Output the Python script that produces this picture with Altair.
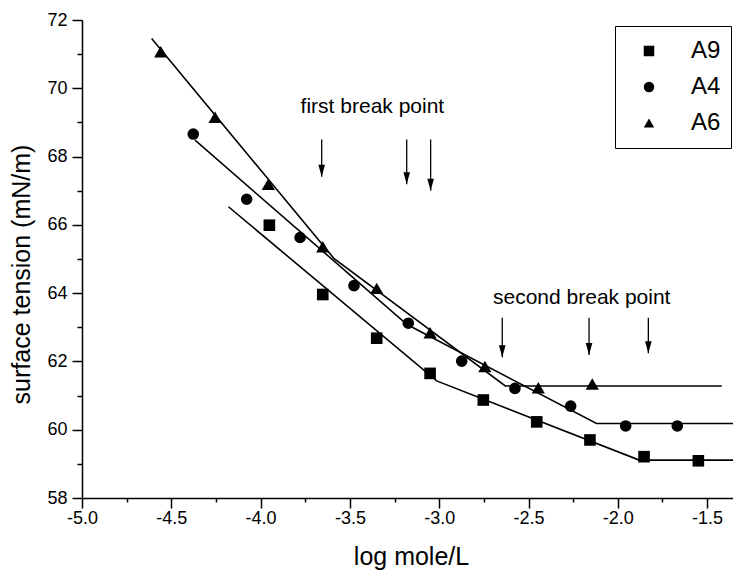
import altair as alt
import pandas as pd

# ---------------- data ----------------
series_names = ["A9", "A4", "A6"]

a9_x = [-3.951, -3.652, -3.350, -3.051, -2.753, -2.454, -2.156, -1.853, -1.549]
a9_y = [65.99, 63.96, 62.68, 61.65, 60.87, 60.23, 59.70, 59.21, 59.09]

a4_x = [-4.377, -4.078, -3.779, -3.477, -3.173, -2.874, -2.576, -2.264, -1.956, -1.667]
a4_y = [68.66, 66.75, 65.63, 64.22, 63.12, 62.01, 61.21, 60.69, 60.11, 60.11]

a6_x = [-4.559, -4.255, -3.957, -3.652, -3.350, -3.051, -2.744, -2.445, -2.143]
a6_y = [71.07, 69.15, 67.19, 65.36, 64.14, 62.84, 61.85, 61.23, 61.34]

# fitted broken lines (vertices)
fit9_x = [-4.180, -3.014, -1.880, -1.355]
fit9_y = [66.53, 61.43, 59.11, 59.11]
fit4_x = [-4.367, -3.180, -2.119, -1.355]
fit4_y = [68.48, 63.08, 60.18, 60.18]
fit6_x = [-4.610, -3.590, -2.630, -1.418]
fit6_y = [71.46, 65.02, 61.28, 61.28]

# break-point arrows
arrow_x = [-3.658, -3.182, -3.048, -2.647, -2.161, -1.829]
arrow_top = [68.50, 68.50, 68.50, 63.28, 63.28, 63.28]
arrow_bottom = [67.41, 67.19, 67.00, 62.12, 62.19, 62.24]

# annotations
note_text = ["first break point", "second break point"]
note_x = [-3.374, -2.202]
note_y = [69.27, 63.67]

# axes
x_domain = [-5.0, -1.355]
y_domain = [58, 72]
x_ticks = [-5.0, -4.75, -4.5, -4.25, -4.0, -3.75, -3.5, -3.25, -3.0,
           -2.75, -2.5, -2.25, -2.0, -1.75, -1.5]
y_ticks = [58, 59, 60, 61, 62, 63, 64, 65, 66, 67, 68, 69, 70, 71, 72]

# ---------------- tables ----------------
pts = pd.DataFrame(
    [{"series": "A9", "x": x, "y": y} for x, y in zip(a9_x, a9_y)]
    + [{"series": "A4", "x": x, "y": y} for x, y in zip(a4_x, a4_y)]
    + [{"series": "A6", "x": x, "y": y} for x, y in zip(a6_x, a6_y)]
)
fits = pd.DataFrame(
    [{"series": "A9", "i": i, "x": x, "y": y} for i, (x, y) in enumerate(zip(fit9_x, fit9_y))]
    + [{"series": "A4", "i": i, "x": x, "y": y} for i, (x, y) in enumerate(zip(fit4_x, fit4_y))]
    + [{"series": "A6", "i": i, "x": x, "y": y} for i, (x, y) in enumerate(zip(fit6_x, fit6_y))]
)
arrows = pd.DataFrame({"x": arrow_x, "top": arrow_top, "bottom": arrow_bottom})
notes = pd.DataFrame({"x": note_x, "y": note_y, "text": note_text})

FONT = "Liberation Sans"
major_x = "abs(datum.value*2 - round(datum.value*2)) < 0.001"
major_y = "datum.value % 2 == 0"

x_axis = alt.Axis(
    values=x_ticks,
    title="log mole/L",
    titleFontSize=25,
    titleFontWeight="normal",
    titleX=329,
    titleY=66,
    titleBaseline="alphabetic",
    titleAlign="center",
    labelExpr=f"{major_x} ? ((datum.value < 0 ? '-' : '') + format(abs(datum.value), '.1f')) : ''",
    labelFontSize=18,
    labelPadding=1,
    labelFlush=False,
    labelOverlap=False,
    tickSize={"condition": {"test": major_x, "value": 10}, "value": 4},
    grid=False,
)
y_axis = alt.Axis(
    values=y_ticks,
    title="surface tension (mN/m)",
    titleFontSize=25,
    titleFontWeight="normal",
    titleAngle=270,
    titleX=-61,
    titleY=254,
    titleAlign="center",
    titleBaseline="middle",
    labelExpr=f"{major_y} ? format(datum.value, 'd') : ''",
    labelFontSize=18,
    labelPadding=5,
    labelOverlap=False,
    labelFlush=False,
    tickSize={"condition": {"test": major_y, "value": 10}, "value": 5},
    grid=False,
)

y_scale = alt.Scale(domain=y_domain, nice=False, zero=False)
X = alt.X("x:Q", scale=alt.Scale(domain=x_domain, nice=False, zero=False), axis=x_axis)
Y = alt.Y("y:Q", scale=y_scale, axis=y_axis)

lines = alt.Chart(fits).mark_line(color="black", strokeWidth=1.6).encode(
    x=X, y=Y, detail="series:N", order="i:Q"
)

points = alt.Chart(pts).mark_point(
    filled=True, color="black", opacity=1, strokeWidth=0
).encode(
    x=X,
    y=Y,
    size=alt.condition("datum.series == 'A6'", alt.value(175), alt.value(135)),
    shape=alt.Shape(
        "series:N",
        scale=alt.Scale(domain=series_names, range=["square", "circle", "triangle-up"]),
        legend=alt.Legend(
            title=None,
            orient="none",
            legendX=533,
            legendY=6,
            strokeColor="black",
            padding=10,
            rowPadding=6,
            clipHeight=30,
            symbolOffset=12,
            labelOffset=30,
            symbolSize=110,
            symbolFillColor="black",
            symbolStrokeColor="black",
            symbolStrokeWidth=0,
            labelFontSize=24,
            labelFont=FONT,
            labelColor="black",
        ),
    ),
)

arrow_lines = alt.Chart(arrows).mark_rule(color="black", strokeWidth=1.3).encode(
    x=X, y=alt.Y("top:Q", scale=y_scale, axis=y_axis), y2="bottom:Q"
)
arrow_heads = alt.Chart(arrows).mark_point(
    shape="M-0.55,-2L0.55,-2L0,0Z", filled=True, color="black", opacity=1, size=144, strokeWidth=0
).encode(
    x=X, y=alt.Y("bottom:Q", scale=y_scale, axis=y_axis)
)

texts = alt.Chart(notes).mark_text(
    font=FONT, fontSize=21, color="black", align="center", baseline="alphabetic"
).encode(x=X, y=Y, text="text:N")

chart = (
    alt.layer(lines, arrow_lines, arrow_heads, points, texts)
    .properties(
        width=651,
        height=478,
        autosize=alt.AutoSizeParams(type="none"),
        padding={"left": 74, "top": 12, "right": 0, "bottom": 75},
        background="white",
    )
    .configure_view(stroke=None)
    .configure_axis(
        domainColor="black",
        domainWidth=1.5,
        tickColor="black",
        tickWidth=1.5,
        labelColor="black",
        titleColor="black",
        labelFont=FONT,
        titleFont=FONT,
    )
)

chart.save("out.html", embed_options={"renderer": "svg", "actions": False})
